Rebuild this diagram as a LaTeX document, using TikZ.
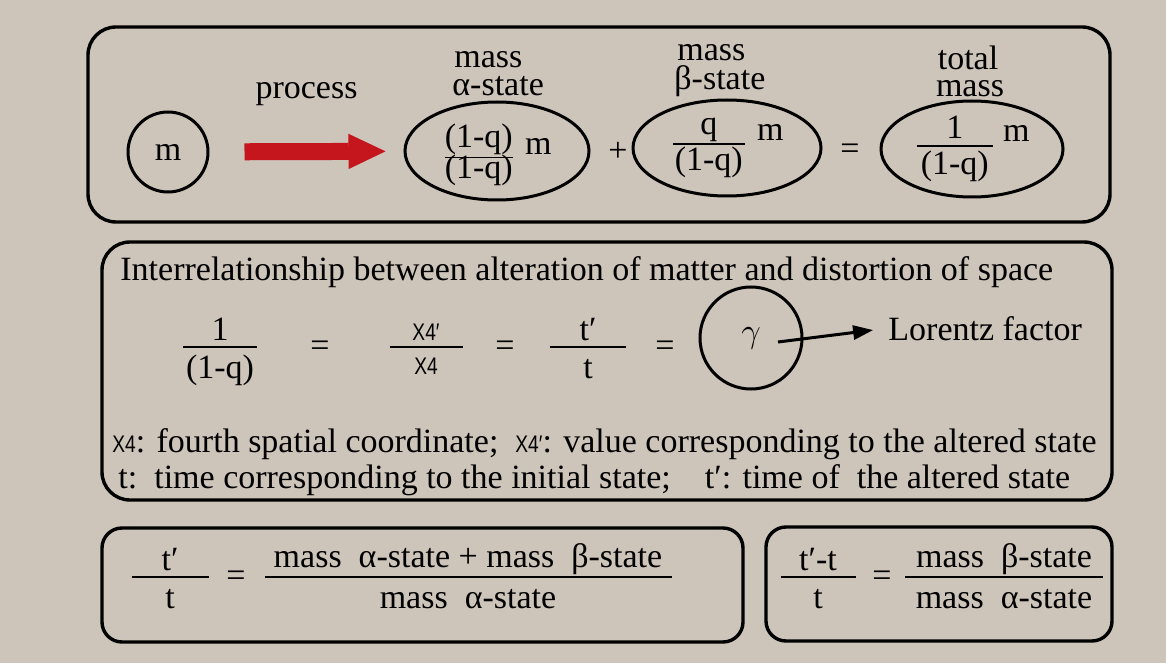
\documentclass[tikz,border=0pt]{standalone}
\usepackage{amsmath}
\usepackage{fontspec}
\setmainfont{Liberation Serif}
\newfontfamily\xfour[FakeStretch=0.8]{Liberation Sans}
\usepackage{tikz}
\usetikzlibrary{positioning, arrows.meta, shapes.geometric}

\definecolor{paper}{RGB}{205,196,186}
\definecolor{procred}{RGB}{196,22,28}

\newcommand{\fracw}[4][14pt]{\ensuremath{\genfrac{}{}{0.9pt}{1}{\makebox[#2]{\rule[-2pt]{0pt}{2pt}#3}}{\makebox[#2]{\rule{0pt}{#1}#4}}}}
\newcommand{\xq}[1]{{\xfour\fontsize{12}{12}\selectfont #1}}

\begin{document}
\begin{tikzpicture}[x=0.5pt, y=-0.5pt, >=Stealth, font=\fontsize{17}{18}\selectfont]

\tikzset{
  panel/.style={draw, line width=1.7pt, rounded corners=14pt},
  ring/.style={draw, ellipse, line width=1.5pt, inner sep=0pt},
  txt/.style={inner sep=0pt, anchor=base},
  procarrow/.style={draw=procred, line width=8.5pt, -{Triangle[length=18.5pt, width=17.5pt, line width=0.5pt]}},
  lfarrow/.style={line width=1.5pt, -{Triangle[length=10pt, width=7pt]}},
}

\fill[paper] (0,0) rectangle (1166,663);
\useasboundingbox (0,0) rectangle (1166,663);

\draw[panel] (88,27) rectangle (1110,222);
\draw[panel] (102,242) rectangle (1112,500);
\draw[panel, rounded corners=10pt] (102,528) rectangle (743,642);
\draw[panel, rounded corners=10pt] (766,527) rectangle (1112,641);

\node[ring, circle, minimum size=40pt] (m) at (168,152) {m};
\node[ring, minimum width=92pt, minimum height=49pt] (alpha) at (497,151) {\fracw[0pt]{34pt}{(1-q)}{\smash{(1-q)}}\hspace{5pt}\raisebox{6pt}{m}};
\node (plus) at (618,152) {+};
\node[ring, minimum width=94pt, minimum height=48pt] (beta) at (727,148) {\fracw[0pt]{36pt}{q}{(1-q)}\hspace{5pt}\raisebox{6.5pt}{m}};
\node (equal) at (850,152) {=};
\node[ring, minimum width=91pt, minimum height=48pt] (total) at (972,149) {\fracw[13pt]{38pt}{1}{(1-q)}\hspace{4pt}\raisebox{6.5pt}{m}};

\node[txt, anchor=base west] (alphamass) at (454,68) {mass};
\node[txt, anchor=base west] (alphastate) at (452,96) {α-state};
\node[txt, anchor=base west] (betamass) at (677,61) {mass};
\node[txt, anchor=base west] (betastate) at (674,90) {β-state};
\node[txt] (totaltop) at (968,70) {total};
\node[txt] (totalmass) at (970,97) {mass};

\draw[procarrow, shorten <=17.5pt, shorten >=9pt] (m) -- node[above=15.5pt, text=black] (proclbl) {process} (alpha);

\node[txt, anchor=base west] (title) at (120,280) {Interrelationship between alteration of matter and distortion of space};
\node[txt] (qfrac) at (220,356) {\fracw{37pt}{1}{(1-q)}};
\node[txt] (eqa) at (320,356) {=};
\node[txt] (xfrac) at (426,356) {\fracw[12pt]{36.5pt}{\xq{X4′}}{\xq{X4}}};
\node[txt] (eqb) at (505,356) {=};
\node[txt] (tfrac) at (588,356) {\fracw{38pt}{t′}{t}};
\node[txt] (eqc) at (665,356) {=};
\node[ring, circle, minimum size=51pt] (gam) at (751,338) {$\gamma$};
\node[txt, anchor=base west] (lor) at (888,340) {Lorentz factor};
\coordinate (gtail) at (778,342);
\draw[lfarrow, shorten >=7.5pt] (gtail) -- (lor.west);

\node[txt, anchor=base west] (note1) at (112,452) {\xq{X4}: fourth spatial coordinate;\ \ \xq{X4′}: value corresponding to the altered state};
\node[txt, anchor=base west] (note2) at (118,488) {t:\ \ time corresponding to the initial state;\ \ \ \ t′: time of\ \ the altered state};

\node[txt] (ratio) at (170,586) {\fracw{38.5pt}{t′}{t}};
\node[txt] (eqd) at (236,586) {=};
\node[txt] (massratio) at (468,586) {\fracw{203.5pt}{mass\ \ α-state + mass\ \ β-state}{mass\ \ α-state}};

\node[txt] (diffratio) at (818,586) {\fracw{37.5pt}{t′-t}{t}};
\node[txt] (eqe) at (882,586) {=};
\node[txt] (betaratio) at (1004,586) {\fracw{99pt}{mass\ \ β-state}{mass\ \ α-state}};

\end{tikzpicture}
\end{document}
